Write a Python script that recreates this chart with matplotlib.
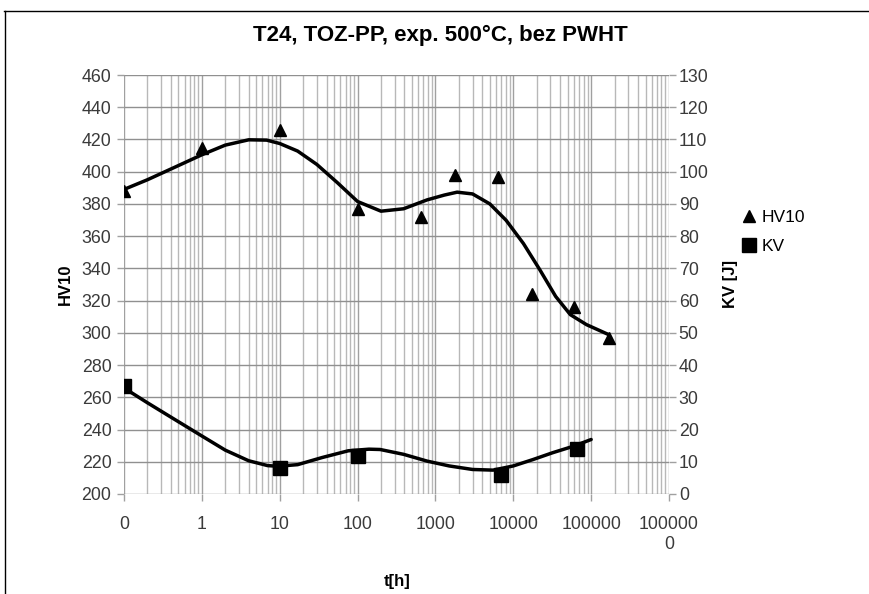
import numpy as np
import matplotlib
matplotlib.use('Agg')
import matplotlib.pyplot as plt
from matplotlib.lines import Line2D
from matplotlib.ticker import FixedLocator, LogLocator, NullFormatter

plt.rcParams['font.family'] = ['Liberation Sans', 'DejaVu Sans']

# HV10 hardness vs exposure time (t = 0 plotted at 0.1)
hv_t = [0.1, 1, 10, 100, 650, 1800, 6300, 17400, 60000, 170000]
hv_val = [388, 415, 426, 377, 372, 398, 397, 324, 316, 297]

# KV impact energy [J]
kv_t = [0.1, 10, 100, 7000, 65000]
kv_val = [33.5, 8, 11.8, 6, 13.8]

# smoothed curves
hv_trend_t = [0.1, 0.2, 0.46, 1, 2, 4, 6.8, 10, 17, 30, 55, 100, 200, 390, 780,
              1300, 1900, 3000, 5000, 8100, 13500, 22000, 35000, 54000, 87000, 166000]
hv_trend_v = [389, 395, 403, 410.5, 416.5, 419.8, 419.6, 417.5, 412.8, 404.5, 393.2,
              381.5, 375.5, 377, 382.5, 385.5, 387.3, 386.2, 380, 369.8, 355.4, 339,
              322.6, 311.3, 305.1, 299]
kv_trend_t = [0.1, 0.2, 0.45, 1, 2, 4, 7, 9.5, 17, 35, 76, 140, 195, 390, 780,
              1500, 3000, 5500, 10000, 18000, 32000, 59000, 100000]
kv_trend_v = [32.9, 28.3, 23.1, 18.0, 13.6, 10.3, 8.8, 8.6, 9.1, 11.3, 13.4, 13.9,
              13.8, 12.3, 10.2, 8.7, 7.6, 7.4, 8.7, 10.7, 12.8, 14.8, 16.9]

x_ticks = [0.1, 1, 10, 100, 1000, 10000, 100000, 1000000]
x_labels = ['0', '1', '10', '100', '1000', '10000', '100000', '100000\n0']

grid_c = '#a0a0a0'

fig = plt.figure(figsize=(8.7, 5.94), dpi=100)
ax = fig.add_axes([0.1425, 0.1684, 0.6265, 0.7053])
ax2 = ax.twinx()

ax.set_xscale('log')
ax.set_xlim(0.1, 1000000)
ax.set_ylim(200, 460)
ax.set_yticks(np.arange(200, 461, 20))
ax2.set_ylim(0, 130)
ax2.set_yticks(np.arange(0, 131, 10))

ax.xaxis.set_major_locator(FixedLocator(x_ticks))
ax.set_xticklabels(x_labels)
ax.xaxis.set_minor_locator(LogLocator(base=10, subs=np.arange(2, 10)))
ax.xaxis.set_minor_formatter(NullFormatter())

ax.grid(True, which='major', axis='y', color='#909090', lw=1.0)
ax.grid(True, which='major', axis='x', color=grid_c, lw=1.0)
ax.grid(True, which='minor', axis='x', color='#b8b8b8', lw=1.0)
ax.set_axisbelow(True)

for a in (ax, ax2):
    for s in a.spines.values():
        s.set_visible(False)
    a.tick_params(axis='both', which='both', colors=grid_c, labelcolor='#3a3a3a',
                  labelsize=12.8, length=5, width=1)
ax.tick_params(axis='x', which='minor', length=0)
ax.tick_params(axis='x', pad=11)
ax.tick_params(axis='y', pad=4)
ax2.tick_params(axis='y', pad=2)

ax.plot(hv_trend_t, hv_trend_v, color='black', lw=2.5, zorder=3,
        solid_joinstyle='round', solid_capstyle='round')
ax2.plot(kv_trend_t, kv_trend_v, color='black', lw=2.5, zorder=3,
         solid_joinstyle='round', solid_capstyle='round')

h1, = ax.plot(hv_t, hv_val, linestyle='none', marker='^', ms=8.5, color='black', zorder=4)
h2, = ax2.plot(kv_t, kv_val, linestyle='none', marker='s', ms=10, color='black', zorder=4)

ax.set_ylabel('HV10', fontsize=12, fontweight='bold', labelpad=6)
ax2.set_ylabel('KV [J]', fontsize=12, fontweight='bold', labelpad=10, rotation=90)
fig.text(0.456, 0.021, 't[h]', ha='center', va='center', fontsize=12, fontweight='bold')
fig.text(0.506, 0.941, 'T24, TOZ-PP, exp. 500°C, bez PWHT', ha='center', va='center',
         fontsize=16, fontweight='bold')

fig.legend([h1, h2], ['HV10', 'KV'], loc='center left', bbox_to_anchor=(0.845, 0.61),
           frameon=False, fontsize=12.5, handlelength=0.8, handletextpad=0.3,
           labelspacing=0.8, borderaxespad=0)

# outer frame (top and left edges)
fig.add_artist(Line2D([0.005, 1.0], [0.982, 0.982], color='black', lw=1, transform=fig.transFigure))
fig.add_artist(Line2D([0.006, 0.006], [0.0, 0.982], color='black', lw=1, transform=fig.transFigure))

fig.savefig('out.png', dpi=100, facecolor='white')
